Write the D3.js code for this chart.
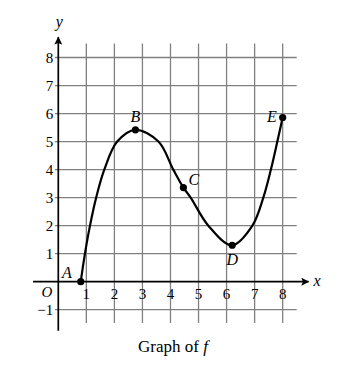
<!DOCTYPE html>
<html>
<head>
<meta charset="utf-8">
<script src="https://cdn.jsdelivr.net/npm/d3@7"></script>
<style>
  body { margin: 0; background: #fff; }
  svg text { font-family: "Liberation Serif", "DejaVu Serif", serif; }
</style>
</head>
<body>
<svg id="chart" width="346" height="369"></svg>
<script>
// values
const xTicks = [1, 2, 3, 4, 5, 6, 7, 8];
const yTicks = [-1, 1, 2, 3, 4, 5, 6, 7, 8];
const curve = [
  [0.8, 0], [0.95, 1], [1.13, 2], [1.35, 3], [1.64, 4], [2.1, 5],
  [2.75, 5.42], [3.57, 5.0], [4.1, 4.0], [4.46, 3.36], [4.72, 3.0],
  [5.35, 2.0], [6.2, 1.3], [6.92, 2], [7.31, 3], [7.58, 4], [7.81, 5], [8.0, 5.86]
];
const labelled = [
  { name: "A", x: 0.8, y: 0, dx: -9, dy: -4, anchor: "end" },
  { name: "B", x: 2.75, y: 5.42, dx: 0, dy: -8, anchor: "middle" },
  { name: "C", x: 4.46, y: 3.36, dx: 5, dy: -3, anchor: "start" },
  { name: "D", x: 6.2, y: 1.3, dx: 0, dy: 20, anchor: "middle" },
  { name: "E", x: 8.0, y: 5.86, dx: -6, dy: 5, anchor: "end" }
];

const x = d3.scaleLinear().domain([0, 8.5]).range([58.3, 296.7]);
const y = d3.scaleLinear().domain([0, 8.5]).range([281.7, 43.5]);

const svg = d3.select("#chart");

// arrowhead
svg.append("defs").append("marker")
  .attr("id", "arrow")
  .attr("viewBox", "0 0 10 10")
  .attr("refX", 9).attr("refY", 5)
  .attr("markerWidth", 11).attr("markerHeight", 8)
  .attr("markerUnits", "userSpaceOnUse")
  .attr("orient", "auto")
  .append("path")
  .attr("d", "M0,0 L10,5 L0,10 L2,5 Z")
  .attr("fill", "#000");

// grid
const grid = svg.append("g").attr("stroke", "#808080").attr("stroke-width", 1.3);
grid.selectAll(".v").data(xTicks).join("line")
  .attr("x1", d => x(d)).attr("x2", d => x(d))
  .attr("y1", y(-1.47)).attr("y2", y(8.5));
grid.selectAll(".h").data(yTicks).join("line")
  .attr("x1", x(-0.12)).attr("x2", x(8.5))
  .attr("y1", d => y(d)).attr("y2", d => y(d));

// axes
svg.append("line")
  .attr("x1", x(-0.9)).attr("x2", x(8.92))
  .attr("y1", y(0)).attr("y2", y(0))
  .attr("stroke", "#000").attr("stroke-width", 1.7)
  .attr("marker-end", "url(#arrow)");
svg.append("line")
  .attr("x1", x(0)).attr("x2", x(0))
  .attr("y1", y(-1.75)).attr("y2", y(8.72))
  .attr("stroke", "#000").attr("stroke-width", 1.7)
  .attr("marker-end", "url(#arrow)");

// tick labels
svg.selectAll(".xl").data(xTicks).join("text")
  .attr("x", d => x(d)).attr("y", y(0) + 17)
  .attr("text-anchor", "middle")
  .attr("font-size", 15)
  .text(d => d);
svg.selectAll(".yl").data(yTicks).join("text")
  .attr("x", x(0) - 5).attr("y", d => y(d) + 5)
  .attr("text-anchor", "end")
  .attr("font-size", 15)
  .text(d => d < 0 ? "\u2212" + Math.abs(d) : d);

svg.append("text")
  .attr("x", x(0) - 6).attr("y", y(0) + 15)
  .attr("text-anchor", "end")
  .attr("font-size", 15).attr("font-style", "italic")
  .text("O");
svg.append("text")
  .attr("x", x(8.92) + 5).attr("y", y(0) + 4)
  .attr("font-size", 16).attr("font-style", "italic")
  .text("x");
svg.append("text")
  .attr("x", x(0) + 1).attr("y", y(8.72) - 10)
  .attr("text-anchor", "middle")
  .attr("font-size", 16).attr("font-style", "italic")
  .text("y");

// graph of f
const line = d3.line()
  .x(d => x(d[0]))
  .y(d => y(d[1]))
  .curve(d3.curveCatmullRom.alpha(0.5));

svg.append("path")
  .datum(curve)
  .attr("fill", "none")
  .attr("stroke", "#000")
  .attr("stroke-width", 2.2)
  .attr("d", line);

svg.selectAll(".pt").data(labelled).join("circle")
  .attr("cx", d => x(d.x)).attr("cy", d => y(d.y))
  .attr("r", 3.6)
  .attr("fill", "#000");

svg.selectAll(".pl").data(labelled).join("text")
  .attr("x", d => x(d.x) + d.dx).attr("y", d => y(d.y) + d.dy)
  .attr("text-anchor", d => d.anchor)
  .attr("font-size", 16).attr("font-style", "italic")
  .text(d => d.name);

// caption
const cap = svg.append("text")
  .attr("x", 173).attr("y", 352)
  .attr("text-anchor", "middle")
  .attr("font-size", 17);
cap.append("tspan").text("Graph of ");
cap.append("tspan").attr("font-style", "italic").text("f");
</script>
</body>
</html>
